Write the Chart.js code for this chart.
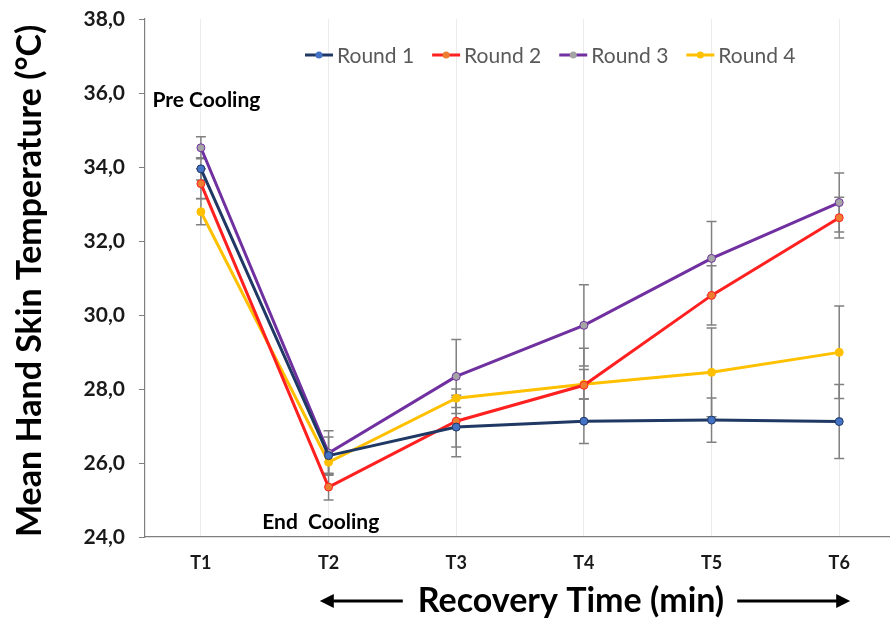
<!DOCTYPE html>
<html>
<head>
<meta charset="utf-8">
<script src="https://cdn.jsdelivr.net/npm/chart.js@4.4.1/dist/chart.umd.min.js"></script>
<style>
  body { margin: 0; background: #fff; }
  #wrap { width: 894px; height: 618px; }
</style>
</head>
<body>
<div id="wrap"><canvas id="chart1" width="894" height="618"></canvas></div>
<script>
var labels = ["T1", "T2", "T3", "T4", "T5", "T6"];
var round1 = [33.95, 26.20, 26.97, 27.13, 27.16, 27.12];
var round2 = [33.55, 25.35, 27.13, 28.10, 30.53, 32.63];
var round3 = [34.52, 26.27, 28.34, 29.72, 31.53, 33.04];
var round4 = [32.79, 26.02, 27.75, 28.13, 28.45, 28.99];
// error bar half lengths (same unit)
var err1 = [0.30, 0.50, 0.80, 0.60, 0.60, 1.00];
var err2 = [0.40, 0.35, 0.70, 1.00, 0.80, 0.55];
var err3 = [0.30, 0.60, 1.00, 1.10, 1.00, 0.80];
var err4 = [0.35, 0.30, 0.25, 0.40, 1.20, 1.25];
var seriesNames = ["Round 1", "Round 2", "Round 3", "Round 4"];
var xTitle = "Recovery Time (min)";
var yTitle = "Mean Hand Skin Temperature (°C)";

var allErr = [err1, err2, err3, err4];
var FONT = "Lato, 'Open Sans', sans-serif";

function toPoints(arr){
  var out = [];
  for (var i = 0; i < arr.length; i++) out.push({x: i + 1, y: arr[i]});
  return out;
}

function makeSet(label, arr, line, fill){
  return {
    label: label,
    data: toPoints(arr),
    borderColor: line,
    backgroundColor: fill,
    pointBackgroundColor: fill,
    pointBorderColor: line,
    pointBorderWidth: 1,
    pointRadius: 4,
    borderWidth: 3,
    tension: 0
  };
}

// error bars, drawn under the lines
var errorBars = {
  id: 'errorBars',
  beforeDatasetsDraw: function(chart){
    var ctx = chart.ctx, xs = chart.scales.x, ys = chart.scales.y;
    ctx.save();
    ctx.strokeStyle = '#808080';
    ctx.lineWidth = 1.5;
    chart.data.datasets.forEach(function(ds, i){
      var e = allErr[i];
      ds.data.forEach(function(p, j){
        var x = xs.getPixelForValue(p.x);
        var t = ys.getPixelForValue(p.y + e[j]);
        var b = ys.getPixelForValue(p.y - e[j]);
        ctx.beginPath();
        ctx.moveTo(x, t); ctx.lineTo(x, b);
        ctx.moveTo(x - 5, t); ctx.lineTo(x + 5, t);
        ctx.moveTo(x - 5, b); ctx.lineTo(x + 5, b);
        ctx.stroke();
      });
    });
    ctx.restore();
  }
};

// legend inside the plot, line + marker like the original
var insideLegend = {
  id: 'insideLegend',
  afterDraw: function(chart){
    var ctx = chart.ctx;
    var x = 305, y = 55;
    ctx.save();
    ctx.font = "21px " + FONT;
    ctx.textBaseline = 'middle';
    chart.data.datasets.forEach(function(ds){
      ctx.strokeStyle = ds.borderColor;
      ctx.lineWidth = 3;
      ctx.beginPath(); ctx.moveTo(x, y); ctx.lineTo(x + 28, y); ctx.stroke();
      ctx.fillStyle = ds.pointBackgroundColor;
      ctx.beginPath(); ctx.arc(x + 14, y, 3.5, 0, Math.PI * 2); ctx.fill();
      ctx.fillStyle = '#595959';
      ctx.fillText(ds.label, x + 32, y + 1);
      x += 32 + ctx.measureText(ds.label).width + 18;
    });
    ctx.restore();
  }
};

// notes, x axis title with arrows
var notes = {
  id: 'notes',
  afterDraw: function(chart){
    var ctx = chart.ctx, xs = chart.scales.x, ys = chart.scales.y;
    ctx.save();
    ctx.fillStyle = '#000';
    ctx.font = "bold 21px " + FONT;
    ctx.textBaseline = 'middle';
    ctx.fillText("Pre Cooling", xs.getPixelForValue(0.62), ys.getPixelForValue(35.8));
    ctx.fillText("End  Cooling", xs.getPixelForValue(1.48), ys.getPixelForValue(24.4));

    ctx.font = "bold 34px " + FONT;
    ctx.textAlign = 'center';
    var cx = 571, cy = 601;
    ctx.fillText(xTitle, cx, cy);
    var w = ctx.measureText(xTitle).width;
    var l = cx - w / 2, r = cx + w / 2;
    ctx.strokeStyle = '#000';
    ctx.lineWidth = 3;
    ctx.beginPath(); ctx.moveTo(l - 15, cy); ctx.lineTo(l - 88, cy); ctx.stroke();
    ctx.beginPath(); ctx.moveTo(l - 98, cy); ctx.lineTo(l - 84, cy - 7); ctx.lineTo(l - 84, cy + 7); ctx.fill();
    ctx.beginPath(); ctx.moveTo(r + 13, cy); ctx.lineTo(r + 116, cy); ctx.stroke();
    ctx.beginPath(); ctx.moveTo(r + 126, cy); ctx.lineTo(r + 112, cy - 7); ctx.lineTo(r + 112, cy + 7); ctx.fill();
    ctx.restore();
  }
};

var ctx = document.getElementById("chart1").getContext("2d");
var myChart = new Chart(ctx, {
  type: 'line',
  data: {
    datasets: [
      makeSet(seriesNames[0], round1, '#1F3864', '#4472C4'),
      makeSet(seriesNames[1], round2, '#FF2020', '#ED7D31'),
      makeSet(seriesNames[2], round3, '#7030A0', '#A5A5A5'),
      makeSet(seriesNames[3], round4, '#FFC000', '#FFC000')
    ]
  },
  options: {
    responsive: false,
    animation: false,
    layout: { padding: { top: 19, right: 0, left: 0, bottom: 0 } },
    plugins: { legend: { display: false }, tooltip: { enabled: false } },
    scales: {
      x: {
        type: 'linear',
        min: 0.562,
        max: 6.39,
        afterBuildTicks: function(s){
          s.ticks = labels.map(function(l, i){ return {value: i + 1}; });
        },
        ticks: {
          callback: function(v){ return labels[v - 1]; },
          font: { family: FONT, weight: 'bold', size: 18 },
          color: '#1a1a1a',
          padding: 15,
          maxRotation: 0
        },
        grid: { color: '#ececec', drawTicks: false },
        border: { color: '#7f7f7f', width: 1.2 },
        afterFit: function(s){ s.height = 81; s.paddingLeft = 0; s.paddingRight = 0; }
      },
      y: {
        min: 24,
        max: 38,
        ticks: {
          stepSize: 2,
          callback: function(v){ return v.toFixed(1).replace('.', ','); },
          font: { family: FONT, weight: 'bold', size: 21 },
          color: '#1a1a1a',
          padding: 14
        },
        grid: { drawOnChartArea: false, drawTicks: true, tickLength: 6, color: '#7f7f7f' },
        border: { color: '#7f7f7f', width: 1.2 },
        title: {
          display: true,
          text: yTitle,
          align: 'start',
          font: { family: FONT, weight: 'bold', size: 34 },
          color: '#000',
          padding: { top: 10, bottom: 0 }
        },
        afterFit: function(s){ s.width = 145; s.paddingTop = 0; s.paddingBottom = 0; }
      }
    }
  },
  plugins: [errorBars, insideLegend, notes]
});
</script>
</body>
</html>
